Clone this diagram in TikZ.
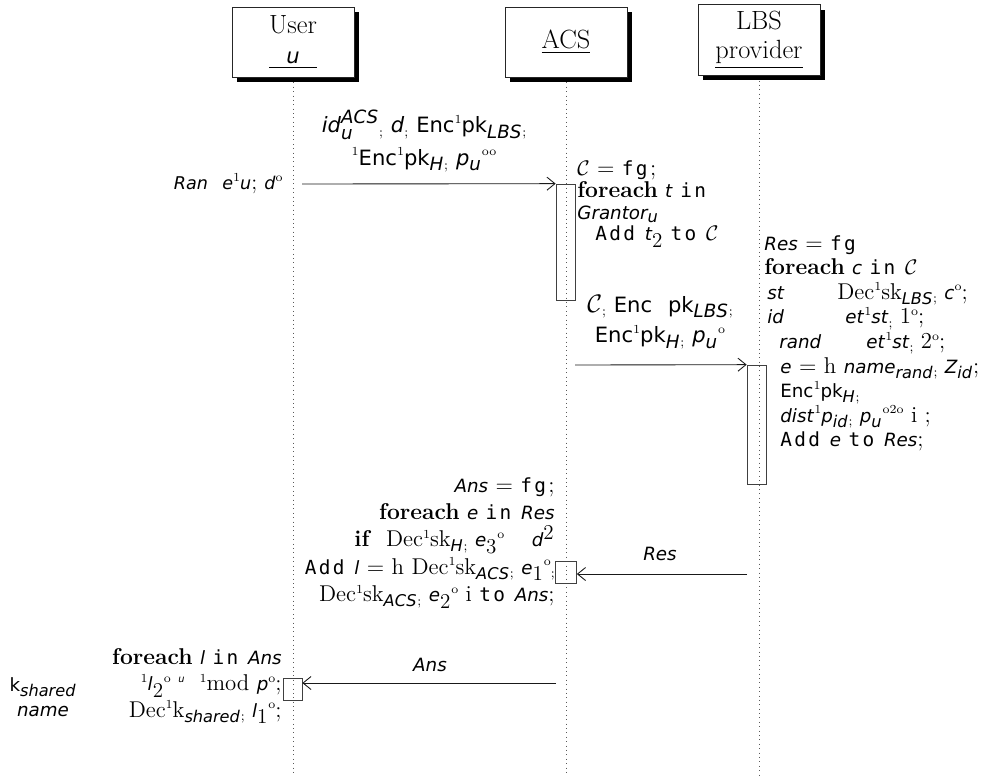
\documentclass[tikz,border=0pt]{standalone}
\usepackage{amsmath,amssymb}
\usepackage{fontspec}
\setsansfont[Scale=0.8]{DejaVu Sans}
\setmonofont[Scale=0.85,LetterSpace=12]{DejaVu Sans Mono}
\usepackage{calc}
\usetikzlibrary{
	positioning,
	shadows,
	arrows.meta
}
\DeclareMathSizes{12}{12}{10.5}{8}
\DeclareMathSizes{13}{13}{11.5}{9}
\DeclareMathSizes{15}{15}{13}{10}

\newcommand\vi[1]{\textsf{\itshape #1}}
\newcommand\su[1]{\textsf{#1}}
\newcommand\tw[1]{\texttt{#1}}
\newcommand\kw[1]{\textbf{#1}}
\newcommand\hi[1]{\raisebox{0.85ex}{\fontsize{7}{7}\selectfont #1}}
\newcommand\lo[1]{\raisebox{-0.35ex}{\fontsize{7.5}{7.5}\selectfont #1}}

\tikzset{
	header/.style={
		draw=gray!30!black,
		fill=white,
		minimum width=2.44cm,
		minimum height=1.4cm,
		align=center,
		font=\fontsize{15}{17}\selectfont,
		drop shadow={shadow xshift=0.1cm,shadow yshift=-0.1cm,opacity=1,fill=black}
	},
	lifeline/.style={
		dotted,
		gray!70!black,
		line width=0.5pt
	},
	actbox/.style={
		draw=gray!50!black,
		minimum width=0.38cm,
		inner sep=0pt
	},
	msg/.style={
		-{Straight Barb[length=1.6mm,width=2.6mm]},
		gray!20!black,
		line width=0.5pt
	},
	msglabel/.style={
		align=center,
		inner sep=0pt,
		font=\fontsize{15}{18.5}\selectfont
	},
	notes/.style={
		inner sep=0pt,
		font=\fontsize{13}{14}\selectfont
	}
}

\begin{document}
\begin{tikzpicture}[x=0.02cm,y=-0.02cm]

	\useasboundingbox (0,0) rectangle (994,775);
	\coordinate (bot) at (0,775);

	\node[header] (hU) at (293,42)
		{User\\\underline{\makebox[\widthof{User}]{\vi{u}}}};
	\node[header] (hA) at (566,42)
		{\underline{ACS}};
	\node[header] (hL) at (759,40)
		{LBS\\\underline{provider}};

	\draw[lifeline] ([yshift=-0.1cm]hU.south) -- (hU.south |- bot);
	\draw[lifeline] ([yshift=-0.1cm]hA.south) -- (hA.south |- bot);
	\draw[lifeline] ([yshift=-0.1cm]hL.south) -- (hL.south |- bot);

	\node[
		actbox,
		minimum height=2.32cm
		]
		(aA1) at (565.5,242) {};
	\node[
		actbox,
		minimum height=2.38cm
		]
		(aL) at (756.5,424.5) {};
	\node[
		actbox,
		minimum width=0.42cm,
		minimum height=0.44cm
		]
		(aA2) at (566,572) {};
	\node[
		actbox,
		minimum height=0.44cm
		]
		(aU) at (292.5,689) {};

	\coordinate (m1s) at (302,184);
	\coordinate (m2s) at (575,365);
	\coordinate (m3s) at (747,574);
	\coordinate (m4s) at (556,683);

	\draw[msg] (m1s) -- (aA1.north west);
	\draw[msg] (m2s) -- (aL.north west);
	\draw[msg] (m3s) -- (aA2.east |- m3s);
	\draw[msg] (m4s) -- (aU.east |- m4s);

	\node[
		notes,
		font=\fontsize{12.5}{14}\selectfont,
		left=0.38cm of m1s
		]
		(ran)
		{\vi{Ran}\ \ \vi{e}\hi{1}\vi{u}; \vi{d}\hi{o}};

	\node[
		msglabel
		]
		(m1lab) at (424,141)
		{$\vi{id}_{\vi{u}}^{\vi{ACS}}$\lo{;} \vi{d}\lo{;} \su{Enc}\hi{1}$\su{pk}_{\vi{LBS}}$\lo{;}\\
		\hi{1}\su{Enc}\hi{1}$\su{pk}_{\vi{H}}$\lo{;} $\vi{p}_{\vi{u}}$\hi{oo}};

	\node[
		notes,
		align=left,
		anchor=north west,
		font=\fontsize{13}{12.5}\selectfont
		]
		(acsA) at (577,160)
		{$\mathcal{C}$ = \tw{fg};\\
		\kw{foreach} \vi{t} \tw{in}\\
		$\vi{Grantor}_{\vi{u}}$\\
		\hspace{0.36cm}\tw{Add} $\vi{t}_2$ \tw{to} $\mathcal{C}$};

	\node[
		msglabel,
		font=\fontsize{15}{17.5}\selectfont
		]
		(m2lab) at (660,322)
		{$\mathcal{C}$\lo{;} \su{Enc}\ \ $\su{pk}_{\vi{LBS}}$\lo{;}\\
		\su{Enc}\hi{1}$\su{pk}_{\vi{H}}$\lo{;} $\vi{p}_{\vi{u}}$\hi{o}};

	\node[
		notes,
		align=left,
		anchor=north west
		]
		(lbsA) at (764,235)
		{\vi{Res} = \tw{fg}\\
		\kw{foreach} \vi{c} \tw{in} $\mathcal{C}$\\
		\hspace{0.06cm}\makebox[1.4cm][l]{\vi{st}}Dec\hi{1}sk$_{\vi{LBS}}$\lo{;} \vi{c}\hi{o};\\
		\hspace{0.06cm}\makebox[1.56cm][l]{\vi{id}}\vi{et}\hi{1}\vi{st}\lo{;} 1\hi{o};\\
		\hspace{0.3cm}\makebox[1.74cm][l]{\vi{rand}}\vi{et}\hi{1}\vi{st}\lo{;} 2\hi{o};\\
		\hspace{0.32cm}\vi{e} = h $\vi{name}_{\vi{rand}}$\lo{;} $\vi{Z}_{\vi{id}}$;\\
		\hspace{0.32cm}\su{Enc}\hi{1}$\su{pk}_{\vi{H}}$\lo{;}\\
		\hspace{0.32cm}\vi{dist}\hi{1}$\vi{p}_{\vi{id}}$\lo{;} $\vi{p}_{\vi{u}}$\hi{o2o} i ;\\
		\hspace{0.32cm}\tw{Add} \vi{e} \tw{to} \vi{Res};};

	\node[
		msglabel,
		font=\fontsize{13}{16}\selectfont
		]
		(m3lab) at (660,554)
		{\vi{Res}};

	\node[
		notes,
		align=right,
		anchor=north east,
		font=\fontsize{13}{15.6}\selectfont
		]
		(acsB) at (555,477)
		{\vi{Ans} = \tw{fg};\\
		\kw{foreach} \vi{e} \tw{in} \vi{Res}\\
		\kw{if}\ \ Dec\hi{1}sk$_{\vi{H}}$\lo{;} $\vi{e}_3$\hi{o}\hspace{1.2em}$\vi{d}^2$\\
		\tw{Add} \vi{l} = h Dec\hi{1}sk$_{\vi{ACS}}$\lo{;} $\vi{e}_1$\hi{o}\lo{;}\\
		Dec\hi{1}sk$_{\vi{ACS}}$\lo{;} $\vi{e}_2$\hi{o} i\ \tw{to} \vi{Ans};};

	\node[
		msglabel,
		font=\fontsize{13}{16}\selectfont
		]
		(m4lab) at (430,665)
		{\vi{Ans}};

	\node[
		notes,
		align=right,
		anchor=north east,
		font=\fontsize{13}{15}\selectfont
		]
		(userA) at (282,648)
		{\kw{foreach} \vi{l} \tw{in} \vi{Ans}\\
		\hi{1}$\vi{l}_2$\hi{o}\ \hi{\vi{u}}\ \ \hi{1}mod\ \vi{p}\hi{o};\\
		Dec\hi{1}$\text{k}_{\vi{shared}}$\lo{;} $\vi{l}_1$\hi{o};};

	\node[
		notes,
		align=center,
		font=\fontsize{13}{14.2}\selectfont
		]
		(keyA) at (43,697)
		{$\su{k}_{\vi{shared}}$\\
		\vi{name}};

\end{tikzpicture}
\end{document}
